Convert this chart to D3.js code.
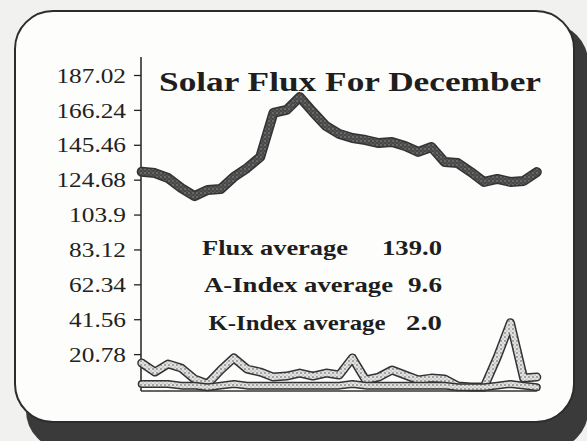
<!DOCTYPE html>
<html>
<head>
<meta charset="utf-8">
<script src="https://cdn.jsdelivr.net/npm/d3@7/dist/d3.min.js"></script>
<style>
html,body{margin:0;padding:0;background:#f1f1f0;}
svg{display:block;}
</style>
</head>
<body>
<svg id="chart" width="587" height="441"></svg>
<script>
// ---- data ----
const days = d3.range(1, 32);
const fluxValues = [129.4,128.6,125.7,119.7,114.9,118.5,119.1,126.3,131.6,138.2,
  164.4,166.2,173.9,165.0,156.6,151.9,149.5,148.3,146.5,147.1,
  144.7,141.2,144.1,135.2,134.6,129.2,123.3,125.1,123.3,123.9,129.2];
const aIndexValues = [15.5,10.1,14.9,12.5,6.0,3.0,11.3,18.5,11.9,10.1,
  7.1,7.7,9.5,7.7,9.5,8.3,18.5,5.4,7.1,11.3,
  8.3,5.4,6.5,6.0,1.8,1.2,1.2,19.0,39.5,6.5,7.1];
const kIndexValues = [3,3,3,2,2,1,2,3,2,2,
  2,2,2,2,2,2,3,2,2,2,
  2,2,2,2,1,1,1,2,3,2,1];
const tickValues = [20.78,41.56,62.34,83.12,103.9,124.68,145.46,166.24,187.02];
const tickLabels = ["20.78","41.56","62.34","83.12","103.9","124.68","145.46","166.24","187.02"];
const titleText = "Solar Flux For December";
const notes = [
  {label:"Flux average", value:"139.0"},
  {label:"A-Index average", value:"9.6"},
  {label:"K-Index average", value:"2.0"}
];

// ---- drawing ----
const svg = d3.select("#chart");
const defs = svg.append("defs");

const fp = defs.append("pattern").attr("id","fluxPat").attr("width",4).attr("height",4).attr("patternUnits","userSpaceOnUse");
fp.append("rect").attr("width",4).attr("height",4).attr("fill","#484848");
fp.append("circle").attr("cx",1).attr("cy",1).attr("r",0.7).attr("fill","#a0a0a0");
fp.append("circle").attr("cx",3).attr("cy",3).attr("r",0.6).attr("fill","#7a7a7a");

const ap = defs.append("pattern").attr("id","aPat").attr("width",4).attr("height",4).attr("patternUnits","userSpaceOnUse");
ap.append("rect").attr("width",4).attr("height",4).attr("fill","#e2e2e2");
ap.append("circle").attr("cx",1).attr("cy",1).attr("r",0.8).attr("fill","#555");
ap.append("circle").attr("cx",3).attr("cy",3).attr("r",0.6).attr("fill","#888");

// frame with shadow
svg.append("rect").attr("x",26).attr("y",24).attr("width",562).attr("height",425)
  .attr("rx",38).attr("fill","#3a3a3a");
svg.append("rect").attr("x",15).attr("y",11).attr("width",559).attr("height",411)
  .attr("rx",38).attr("fill","#fdfdfc").attr("stroke","#2c2c2c").attr("stroke-width",2);

const x = d3.scaleLinear().domain([1,31]).range([141.7,536.8]);
const y = d3.scaleLinear().domain([0,187.02]).range([389,75]);

// y axis
const yAxis = d3.axisLeft(y).tickValues(tickValues).tickSize(7).tickFormat(() => "");
const gy = svg.append("g").attr("transform","translate(141,0)").call(yAxis);
gy.select(".domain").remove();
gy.selectAll(".tick line").attr("stroke","#222").attr("stroke-width",1.3);
svg.append("line").attr("x1",141).attr("x2",141).attr("y1",57).attr("y2",y(0)+2)
  .attr("stroke","#222").attr("stroke-width",1.5);
svg.append("line").attr("x1",141).attr("x2",x(31)).attr("y1",y(0)+2).attr("y2",y(0)+2)
  .attr("stroke","#333").attr("stroke-width",1.4);

svg.append("g").selectAll("g").data(tickValues).join("g")
  .attr("transform",d=>`translate(126,${y(d)}) scale(1.15,1)`)
  .append("text")
  .attr("text-anchor","end").attr("dy","0.35em")
  .attr("font-family","'Liberation Serif', serif").attr("font-size",22).attr("fill","#222")
  .text((d,i)=>tickLabels[i]);

// lines
const line = d3.line().x((d,i)=>x(days[i])).y(d=>y(d));

function drawSeries(vals, outline, ow, fill, iw){
  svg.append("path").attr("d",line(vals)).attr("fill","none").attr("stroke",outline)
    .attr("stroke-width",ow).attr("stroke-linejoin","round").attr("stroke-linecap","round");
  svg.append("path").attr("d",line(vals)).attr("fill","none").attr("stroke",fill)
    .attr("stroke-width",iw).attr("stroke-linejoin","round").attr("stroke-linecap","round");
}
drawSeries(fluxValues, "#333", 10, "url(#fluxPat)", 7);
drawSeries(aIndexValues, "#333", 9, "url(#aPat)", 6);
drawSeries(kIndexValues, "#333", 8, "url(#aPat)", 5);

// title
svg.append("text").attr("x",159).attr("y",91)
  .attr("font-family","'Liberation Serif', serif").attr("font-weight","bold")
  .attr("font-size",28).attr("fill","#1e1e1e")
  .attr("textLength",382).attr("lengthAdjust","spacingAndGlyphs")
  .text(titleText);

// notes
const noteLayout = [
  {lx:202, lw:146, vx:382, vw:60, by:255, fs:22},
  {lx:204, lw:189, vx:408, vw:34, by:292, fs:22},
  {lx:208.5, lw:177, vx:406, vw:36, by:330, fs:21}
];
notes.forEach((n,i)=>{
  const L = noteLayout[i];
  svg.append("text").attr("x",L.lx).attr("y",L.by)
    .attr("font-family","'Liberation Serif', serif").attr("font-weight","bold")
    .attr("font-size",L.fs).attr("fill","#1e1e1e")
    .attr("textLength",L.lw).attr("lengthAdjust","spacingAndGlyphs").text(n.label);
  svg.append("text").attr("x",L.vx).attr("y",L.by)
    .attr("font-family","'Liberation Serif', serif").attr("font-weight","bold")
    .attr("font-size",L.fs).attr("fill","#1e1e1e")
    .attr("textLength",L.vw).attr("lengthAdjust","spacingAndGlyphs").text(n.value);
});
</script>
</body>
</html>
